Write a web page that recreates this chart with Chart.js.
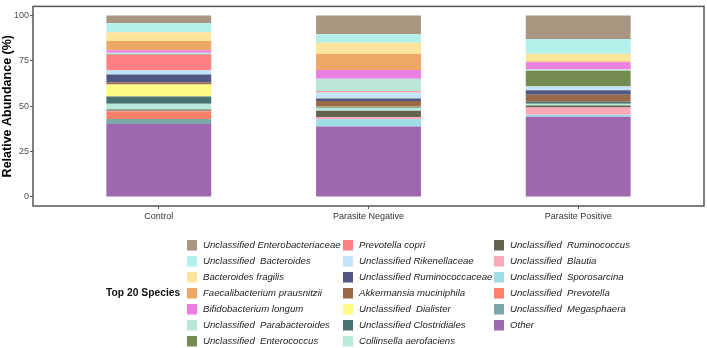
<!DOCTYPE html>
<html>
<head>
<meta charset="utf-8">
<script src="https://cdn.jsdelivr.net/npm/chart.js@4.4.1/dist/chart.umd.min.js"></script>
<style>
  body { margin: 0; background: #fff; }
  canvas { display: block; }
</style>
</head>
<body>
<canvas id="abundance" width="707" height="348"></canvas>
<script>
const groups = ['Control', 'Parasite Negative', 'Parasite Positive'];

// legend order, top of the bar first
const species = [
  'Unclassified Enterobacteriaceae',
  'Unclassified  Bacteroides',
  'Bacteroides fragilis',
  'Faecalibacterium prausnitzii',
  'Bifidobacterium longum',
  'Unclassified  Parabacteroides',
  'Unclassified  Enterococcus',
  'Prevotella copri',
  'Unclassified Rikenellaceae',
  'Unclassified Ruminococcaceae',
  'Akkermansia muciniphila',
  'Unclassified  Dialister',
  'Unclassified Clostridiales',
  'Collinsella aerofaciens',
  'Unclassified  Ruminococcus',
  'Unclassified  Blautia',
  'Unclassified  Sporosarcina',
  'Unclassified  Prevotella',
  'Unclassified  Megasphaera',
  'Other',
];

const control      = [4.3, 4.9, 4.9, 5.1, 1.4, 0.8, 0.2, 8.6, 2.3, 4.5, 1.1, 6.5, 4.0, 3.2, 0.7, 0.2, 0.1, 4.3, 2.7, 40.2];
const parasiteNeg  = [10.4, 4.7, 6.1, 8.8, 4.9, 6.8, 0, 0.7, 3.4, 1.3, 3.2, 0.2, 0.4, 1.6, 3.6, 1.1, 4.0, 0, 0, 38.8];
const parasitePos  = [13.0, 8.1, 4.3, 0.4, 4.0, 0.7, 8.5, 0.2, 2.0, 2.5, 3.8, 0.1, 1.1, 0.9, 1.1, 4.0, 1.1, 0, 0, 44.2];
const yTicks = [0, 25, 50, 75, 100];

const colors = [
  '#A89680', '#B3F0EA', '#FBE59D', '#EEA866', '#EC80E0',
  '#BBE6D9', '#748C52', '#FF8082', '#C2E4F8', '#4F5782',
  '#9A6A48', '#FBFB84', '#497372', '#B9E9D9', '#64634F',
  '#FDA8B8', '#9DDDE6', '#FF8069', '#7AA8A8', '#9E67AE',
];

const byGroup = [control, parasiteNeg, parasitePos];
const font = 'Liberation Sans, Arial, sans-serif';

// Chart.js stacks the first dataset at the bottom, so reverse
const datasets = species.map((name, si) => ({
  label: name,
  data: groups.map((g, gi) => ({ x: gi, y: byGroup[gi][si] })),
  backgroundColor: colors[si],
  borderWidth: 0,
  barPercentage: 0.5,
  categoryPercentage: 1,
})).reverse();

const panelBox = {
  id: 'panelBox',
  afterDatasetsDraw(chart) {
    const { ctx, chartArea: a } = chart;
    ctx.save();
    ctx.strokeStyle = '#555';
    ctx.lineWidth = 1.5;
    ctx.strokeRect(a.left, a.top, a.right - a.left, a.bottom - a.top);
    ctx.restore();
  }
};

const speciesLegend = {
  id: 'speciesLegend',
  afterDraw(chart) {
    const ctx = chart.ctx;
    const cols = [187, 343, 494];
    const perCol = 7;
    ctx.save();
    ctx.textBaseline = 'middle';
    ctx.fillStyle = '#111';
    ctx.font = 'bold 10.3px ' + font;
    ctx.fillText('Top 20 Species', 106, 293);
    ctx.font = 'italic 9.6px ' + font;
    species.forEach((name, i) => {
      const x = cols[Math.floor(i / perCol)];
      const y = 240 + (i % perCol) * 16;
      ctx.fillStyle = colors[i];
      ctx.fillRect(x, y, 10, 10.5);
      ctx.fillStyle = '#222';
      ctx.fillText(name, x + 16, y + 5.5);
    });
    ctx.restore();
  }
};

new Chart(document.getElementById('abundance'), {
  type: 'bar',
  data: { datasets },
  options: {
    responsive: false,
    animation: false,
    layout: { padding: { top: 3, right: 3, left: 0, bottom: 0 } },
    plugins: {
      legend: { display: false },
      tooltip: { enabled: false },
    },
    scales: {
      x: {
        type: 'linear',
        stacked: true,
        offset: false,
        min: -0.6,
        max: 2.6,
        afterBuildTicks: s => { s.ticks = groups.map((g, i) => ({ value: i })); },
        afterFit: s => { s.height = 142; },
        ticks: {
          callback: v => groups[v],
          color: '#333',
          font: { family: font, size: 9 },
          padding: 2,
          maxRotation: 0,
        },
        grid: { offset: false, drawOnChartArea: false, drawTicks: true, tickLength: 3, color: '#555' },
        border: { display: false },
      },
      y: {
        stacked: true,
        min: -5,
        max: 105,
        afterBuildTicks: s => { s.ticks = yTicks.map(v => ({ value: v })); },
        afterFit: s => { s.width = 33; },
        ticks: {
          color: '#4D4D4D',
          font: { family: font, size: 9 },
          padding: 1,
        },
        grid: { drawOnChartArea: false, drawTicks: true, tickLength: 3, color: '#555' },
        border: { display: false },
        title: {
          display: true,
          text: 'Relative Abundance (%)',
          color: '#000',
          font: { family: font, size: 12.5, weight: 'bold' },
          padding: 0,
        },
      },
    },
  },
  plugins: [panelBox, speciesLegend],
});
</script>
</body>
</html>
